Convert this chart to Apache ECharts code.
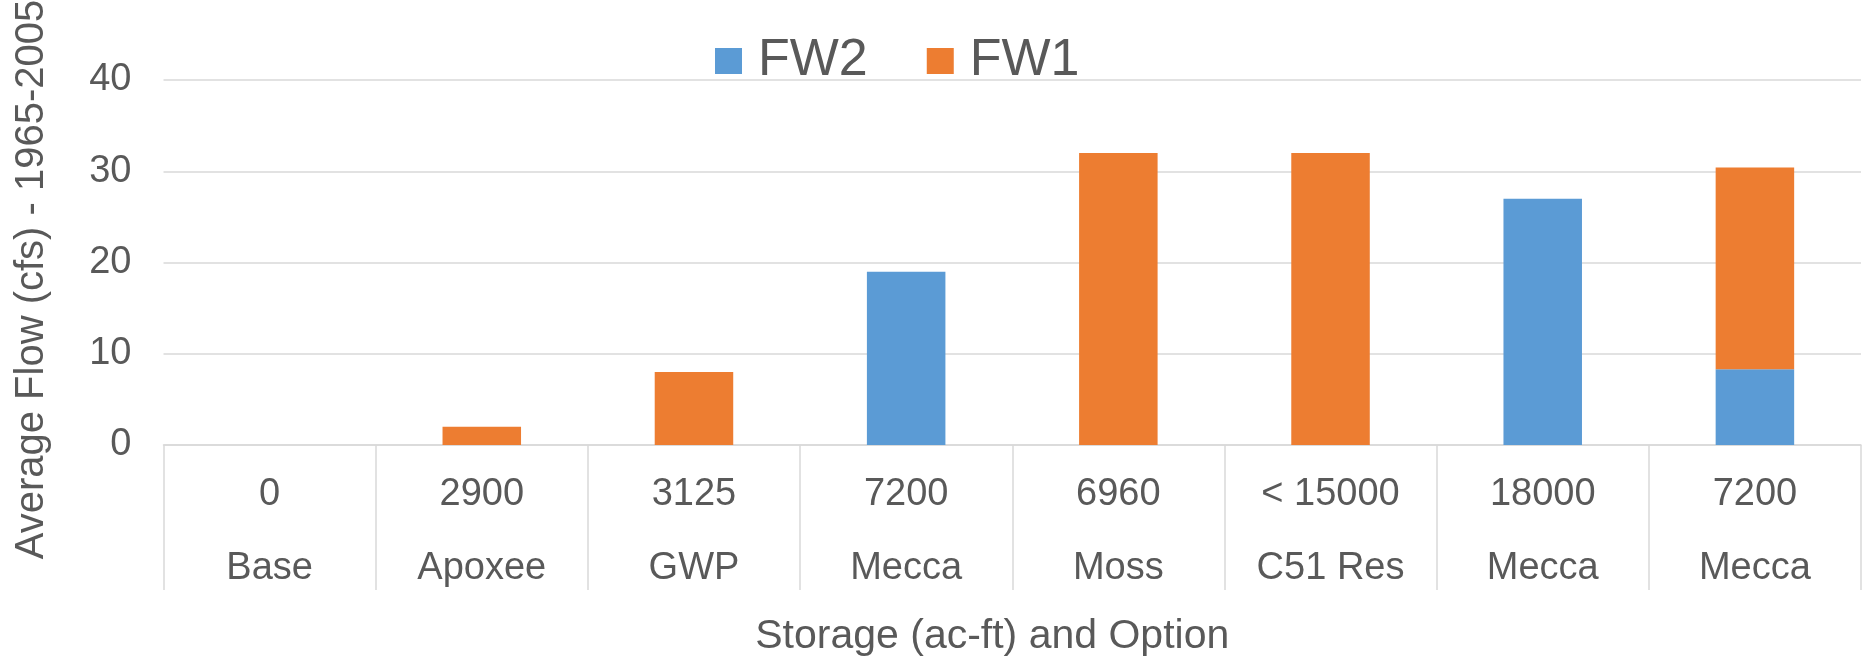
<!DOCTYPE html>
<html>
<head>
<meta charset="utf-8">
<script src="https://cdn.jsdelivr.net/npm/echarts@6/dist/echarts.min.js"></script>
<style>
html,body{margin:0;padding:0;background:#fff;}
#chart{width:1865px;height:659px;}
</style>
</head>
<body>
<div id="chart"></div>
<script>
const storage = ['0', '2900', '3125', '7200', '6960', '< 15000', '18000', '7200'];
const options = ['Base', 'Apoxee', 'GWP', 'Mecca', 'Moss', 'C51 Res', 'Mecca', 'Mecca'];
const fw2 = [0, 0, 0, 19, 0, 0, 27, 8.3];
const fw1 = [0, 2, 8, 0, 32, 32, 0, 22.1];
const yTicks = { min: 0, max: 40, interval: 10 };

const categories = storage.map((s, i) => s + '\n' + options[i]);
const font = '"Liberation Sans", Arial, sans-serif';
const txt = '#595959';
const gridColor = '#D9D9D9';

const chart = echarts.init(document.getElementById('chart'), null, {renderer: 'canvas'});
chart.setOption({
  animation: false,
  backgroundColor: '#ffffff',
  textStyle: { fontFamily: font, color: txt },
  legend: {
    data: ['FW2', 'FW1'],
    left: 710,
    top: 30,
    itemWidth: 27,
    itemHeight: 26,
    itemGap: 59,
    icon: 'rect',
    textStyle: { fontSize: 52, color: txt, fontFamily: font, padding: [0, 0, 0, 11] }
  },
  grid: { left: 163.5, right: 4, top: 80, bottom: 214, containLabel: false, outerBoundsMode: 'none' },
  xAxis: {
    type: 'category',
    data: categories,
    boundaryGap: true,
    name: 'Storage (ac-ft) and Option',
    nameLocation: 'middle',
    nameGap: 171,
    nameTextStyle: { fontSize: 41, color: txt, fontFamily: font, padding: [0, 40, 0, 0] },
    axisLine: { show: true, lineStyle: { color: gridColor, width: 1.5 } },
    axisTick: { show: true, interval: 0, length: 145, lineStyle: { color: gridColor, width: 1.5 } },
    axisLabel: { interval: 0, fontSize: 38, color: txt, fontFamily: font, lineHeight: 74, margin: 13 }
  },
  yAxis: {
    type: 'value',
    min: yTicks.min,
    max: yTicks.max,
    interval: yTicks.interval,
    name: 'Average Flow (cfs) - 1965-2005',
    nameLocation: 'middle',
    nameGap: 112,
    nameTextStyle: { fontSize: 40, color: txt, fontFamily: font, padding: [0, 34, 0, 0] },
    axisLine: { show: false },
    axisTick: { show: false },
    axisLabel: { fontSize: 38, color: txt, fontFamily: font, margin: 32 },
    splitLine: { lineStyle: { color: gridColor, width: 1.5 } }
  },
  series: [
    { name: 'FW2', type: 'bar', stack: 'flow', data: fw2, barWidth: '37%', itemStyle: { color: '#5B9BD5' } },
    { name: 'FW1', type: 'bar', stack: 'flow', data: fw1, barWidth: '37%', itemStyle: { color: '#ED7D31' } }
  ]
});
</script>
</body>
</html>
